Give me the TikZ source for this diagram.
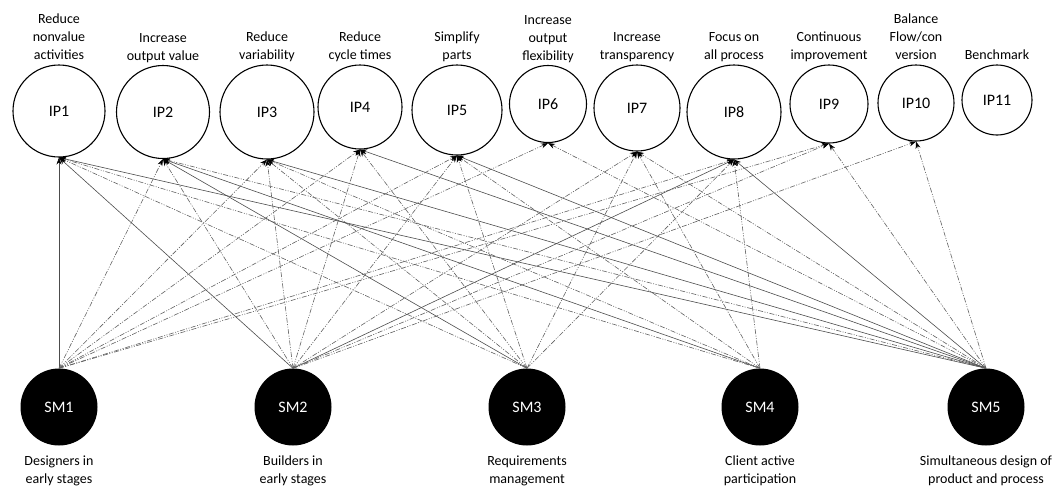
\documentclass[tikz,border=0pt]{standalone}
\usepackage{fontspec}
\setmainfont{Carlito}
\usetikzlibrary{arrows.meta,positioning}

\begin{document}
\begin{tikzpicture}[x=1pt,y=-1pt,
    ip/.style={circle,draw=black,line width=1.1pt,fill=white,inner sep=0pt,
      minimum size=#1,font=\fontsize{16}{18}\selectfont},
    sm/.style={circle,fill=black,text=white,inner sep=0pt,minimum size=77pt,
      font=\fontsize{16}{18}\selectfont},
    txt/.style={align=center,inner sep=0pt,font=\fontsize{14}{18}\selectfont,
      execute at begin node=\strut,execute at end node=\strut},
    link/.style={draw=black!70,line width=0.6pt,
      -{Stealth[length=7pt,width=5pt,color=black]}},
    dep/.style={link,draw=black!62,
      dash pattern=on 5pt off 1.5pt on 1pt off 1.5pt on 1pt off 1.5pt}]
  \useasboundingbox (0,0) rectangle (1061,488);

  % improvement principles
  \node[ip=92pt] (ip1) at (59,111) {IP1};
  \node[ip=93pt] (ip2) at (163,112) {IP2};
  \node[ip=94pt] (ip3) at (267,112) {IP3};
  \node[ip=84pt] (ip4) at (360,107) {IP4};
  \node[ip=90pt] (ip5) at (457,110) {IP5};
  \node[ip=77pt] (ip6) at (548,104) {IP6};
  \node[ip=86pt] (ip7) at (637,108) {IP7};
  \node[ip=94pt] (ip8) at (734,112) {IP8};
  \node[ip=78pt] (ip9) at (829,104) {IP9};
  \node[ip=76pt] (ip10) at (916,103) {IP10};
  \node[ip=70pt] (ip11) at (997,100) {IP11};

  \node[txt,above=-1pt of ip1] {Reduce\\nonvalue\\activities};
  \node[txt,above=-1pt of ip2] {Increase\\output value};
  \node[txt,above=-1pt of ip3] {Reduce\\variability};
  \node[txt,above=-1pt of ip4] {Reduce\\cycle times};
  \node[txt,above=-1pt of ip5] {Simplify\\parts};
  \node[txt,above=-1pt of ip6] {Increase\\output\\flexibility};
  \node[txt,above=-1pt of ip7] {Increase\\transparency};
  \node[txt,above=-1pt of ip8] {Focus on\\all process};
  \node[txt,above=-1pt of ip9] {Continuous\\improvement};
  \node[txt,above=-1pt of ip10] {Balance\\Flow/con\\version};
  \node[txt,above=-1pt of ip11] {Benchmark};

  % simultaneous management practices
  \node[sm] (sm1) at (59,407) {SM1};
  \node[sm] (sm2) at (293,407) {SM2};
  \node[sm] (sm3) at (527,407) {SM3};
  \node[sm] (sm4) at (760,407) {SM4};
  \node[sm] (sm5) at (986,407) {SM5};

  \node[txt,below=10pt of sm1] {Designers in\\early stages};
  \node[txt,below=10pt of sm2] {Builders in\\early stages};
  \node[txt,below=10pt of sm3] {Requirements\\management};
  \node[txt,below=10pt of sm4] {Client active\\participation};
  \node[txt,below=10pt of sm5] {Simultaneous design of\\product and process};

  % strong links
  \draw[link] (sm1.north) -- (ip1.south);
  \draw[link] (sm2.north) -- (ip1.south);
  \draw[link] (sm2.north) -- (ip8.south);
  \draw[link] (sm3.north) -- (ip2.south);
  \draw[link] (sm4.north) -- (ip2.south);
  \foreach \i in {1,3,4,5,8}
    \draw[link] (sm5.north) -- (ip\i.south);

  % weak links
  \foreach \i in {2,3,4,5,6,8,9}
    \draw[dep] (sm1.north) -- (ip\i.south);
  \foreach \i in {2,3,4,5,7,9,10}
    \draw[dep] (sm2.north) -- (ip\i.south);
  \foreach \i in {1,3,4,5,7,8}
    \draw[dep] (sm3.north) -- (ip\i.south);
  \foreach \i in {1,3,5,7,8}
    \draw[dep] (sm4.north) -- (ip\i.south);
  \foreach \i in {2,6,7,9,10}
    \draw[dep] (sm5.north) -- (ip\i.south);
\end{tikzpicture}
\end{document}
